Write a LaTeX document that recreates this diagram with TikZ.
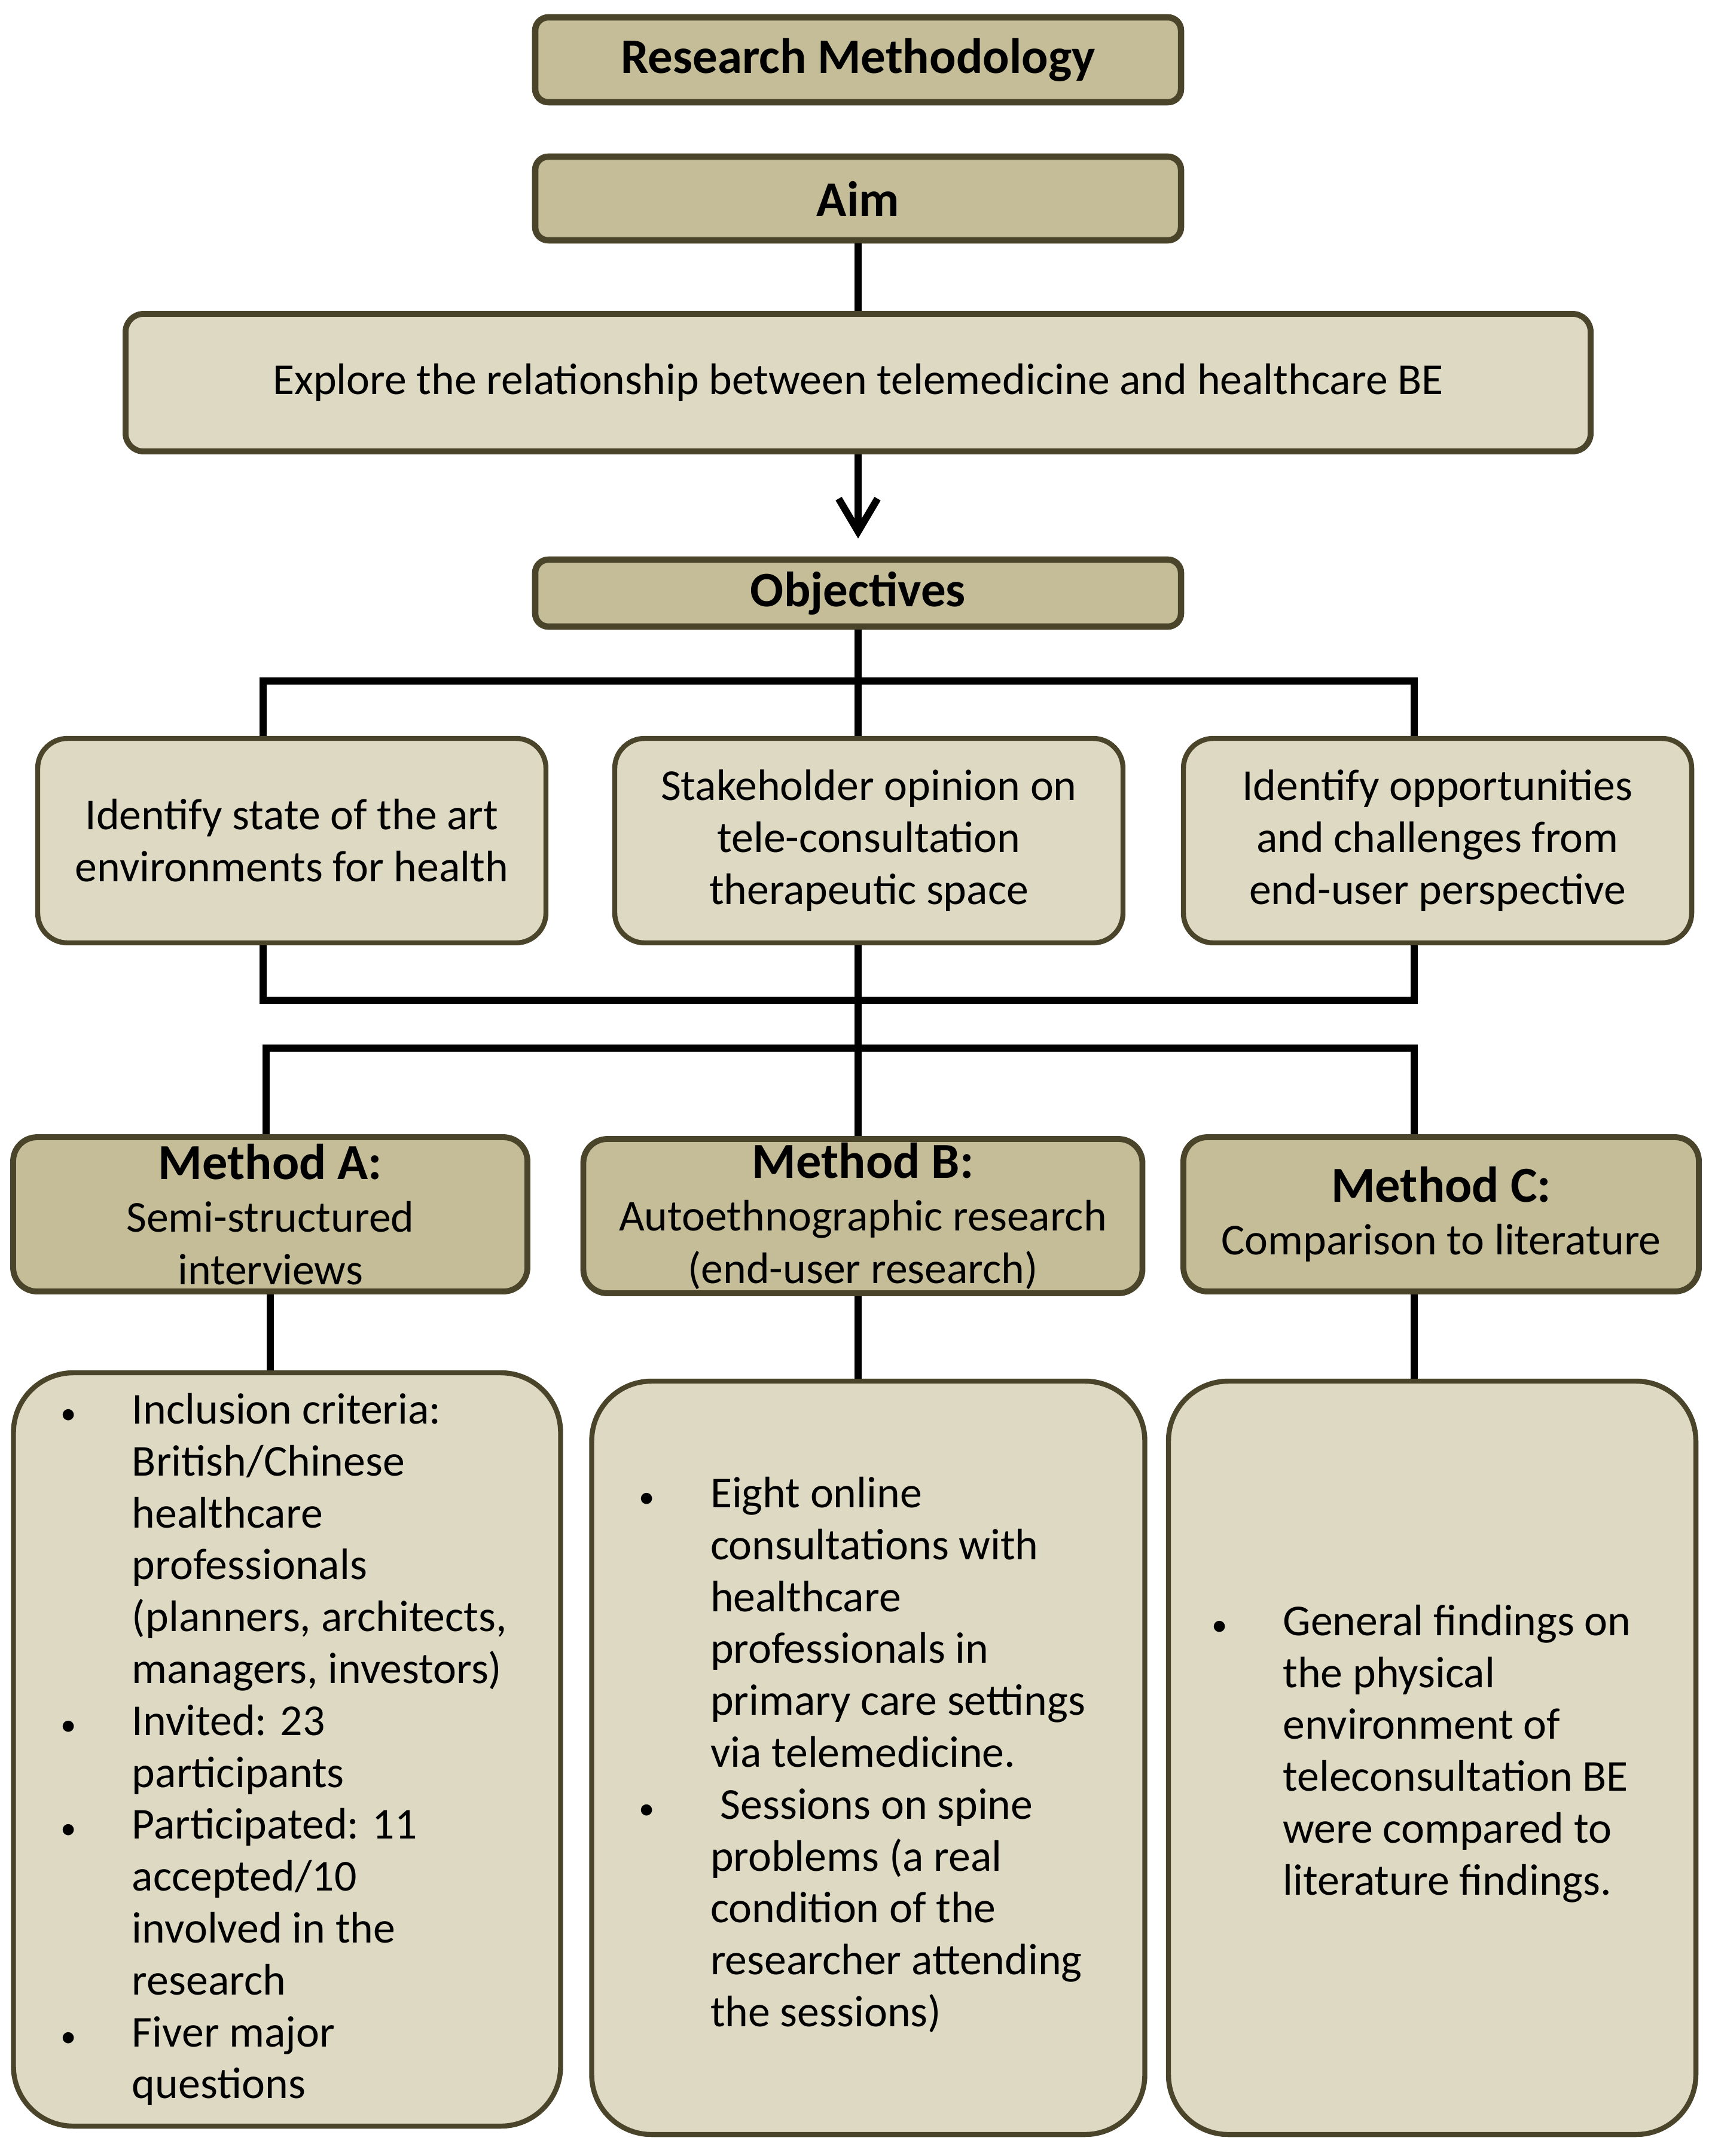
\documentclass[tikz,border=0pt]{standalone}
\usepackage{fontspec}
\setmainfont{Carlito}
\usepackage{tikz}
\usetikzlibrary{shapes,arrows.meta,positioning}
\definecolor{tandark}{HTML}{C4BD97}
\definecolor{tanlight}{HTML}{DDD9C3}
\definecolor{boxedge}{HTML}{4A452A}
\newcommand{\bulletpt}{\makebox[0.68cm]{\fontsize{15}{15}\selectfont\textbullet}\hspace{0.72cm}}
\newcommand{\bulletsk}{\hspace*{1.4cm}}
\tikzstyle{hnode} = [rectangle, rounded corners=0.22cm, draw=boxedge, line width=3pt, fill=tandark, font=\fontsize{23.6}{26}\selectfont\bfseries, minimum width=10.8cm, inner sep=0pt]
\tikzstyle{enode} = [rectangle, rounded corners=0.3cm, draw=boxedge, line width=2.8pt, fill=tanlight, font=\fontsize{21}{25}\selectfont, minimum width=24.5cm, minimum height=2.3cm]
\tikzstyle{onode} = [rectangle, rounded corners=0.5cm, draw=boxedge, line width=2.4pt, fill=tanlight, font=\fontsize{21}{24.7}\selectfont, align=center, minimum width=8.5cm, minimum height=3.42cm]
\tikzstyle{mnode} = [rectangle, rounded corners=0.4cm, draw=boxedge, line width=2.8pt, fill=tandark, font=\fontsize{21}{25}\selectfont, align=center, minimum height=2.58cm, inner sep=0pt]
\tikzstyle{bbox} = [rectangle, rounded corners=1cm, draw=boxedge, line width=2.4pt, fill=tanlight, minimum height=12.6cm]
\tikzstyle{btext} = [anchor=west, align=left, inner sep=0pt, font=\fontsize{21}{24.7}\selectfont]
\tikzstyle{line} = [draw, line width=3.4pt]
\tikzstyle{arrowline} = [draw, line width=3.4pt, -{Straight Barb[length=0.55cm,width=0.65cm]}, shorten >=0.3cm]

\begin{document}
\begin{tikzpicture}
	\useasboundingbox (0,0) rectangle (28.62,-36.06);

	\node [hnode, minimum height=1.42cm] (rm) at (14.35,-1.00) {Research Methodology};
	\node [hnode, minimum height=1.40cm] (aim) at (14.35,-3.32) {Aim};
	\node [enode] (explore) at (14.35,-6.40) {Explore the relationship between telemedicine and healthcare BE};
	\node [hnode, minimum height=1.12cm] (obj) at (14.35,-9.92) {Objectives};

	\node [onode] (o1) at (4.88,-14.06) {Identify state of the art\\environments for health};
	\node [onode] (o2) at (14.53,-14.06) {Stakeholder opinion on\\tele-consultation\\therapeutic space};
	\node [onode] (o3) at (24.04,-14.06) {Identify opportunities\\and challenges from\\end-user perspective};

	\node [mnode, minimum width=8.6cm] (ma) at (4.52,-20.31) {{\fontsize{24}{26}\selectfont\bfseries Method A:}\\Semi-structured\\interviews};
	\node [mnode, minimum width=9.35cm] (mb) at (14.43,-20.34) {{\fontsize{24}{26}\selectfont\bfseries Method B:}\\Autoethnographic research\\(end-user research)};
	\node [mnode, minimum width=8.62cm] (mc) at (24.10,-20.31) {{\fontsize{24}{26}\selectfont\bfseries Method C:}\\Comparison to literature};

	\node [bbox, minimum width=9.15cm] (ba) at (4.80,-29.26) {};
	\node [bbox, minimum width=9.25cm] (bb) at (14.52,-29.40) {};
	\node [bbox, minimum width=8.82cm] (bc) at (23.95,-29.40) {};

	\node [btext] (ta) at ([xshift=0.62cm]ba.west) {\bulletpt Inclusion criteria:\\\bulletsk British/Chinese\\\bulletsk healthcare\\\bulletsk professionals\\\bulletsk (planners, architects,\\\bulletsk managers, investors)\\\bulletpt Invited: 23\\\bulletsk participants\\\bulletpt Participated: 11\\\bulletsk accepted/10\\\bulletsk involved in the\\\bulletsk research\\\bulletpt Fiver major\\\bulletsk questions};
	\node [btext] (tb) at ([xshift=0.62cm,yshift=0.05cm]bb.west) {\bulletpt Eight online\\\bulletsk consultations with\\\bulletsk healthcare\\\bulletsk professionals in\\\bulletsk primary care settings\\\bulletsk via telemedicine.\\\bulletpt \ Sessions on spine\\\bulletsk problems (a real\\\bulletsk condition of the\\\bulletsk researcher attending\\\bulletsk the sessions)};
	\node [btext] (tc) at ([xshift=0.55cm,yshift=0.07cm]bc.west) {\bulletpt General findings on\\\bulletsk the physical\\\bulletsk environment of\\\bulletsk teleconsultation BE\\\bulletsk were compared to\\\bulletsk literature findings.};

	% junction columns
	\coordinate (cl) at (4.40,0);
	\coordinate (cc) at (14.35,0);
	\coordinate (cr) at (23.65,0);
	\coordinate (b1l) at (4.40,-11.39);
	\coordinate (b1r) at (23.65,-11.39);
	\coordinate (b2l) at (4.40,-16.73);
	\coordinate (b2r) at (23.65,-16.73);
	\coordinate (b3l) at (4.45,-17.53);
	\coordinate (b3r) at (23.65,-17.53);

	\path [line] (aim) -- (explore);
	\path [arrowline] (explore) -- (obj);
	\path [line] (obj.south) -- (o2.north -| cc);
	\path [line] (o1.north -| b1l) -- (b1l) -- (b1r) -- (o3.north -| b1r);
	\path [line] (o1.south -| b2l) -- (b2l) -- (b2r) -- (o3.south -| b2r);
	\path [line] (o2.south -| cc) -- (mb.north -| cc);
	\path [line] (ma.north -| b3l) -- (b3l) -- (b3r) -- (mc.north -| b3r);
	\path [line] (ma.south) -- (ba.north -| ma.south);
	\path [line] (mb.south -| cc) -- (bb.north -| cc);
	\path [line] (mc.south -| cr) -- (bc.north -| cr);
\end{tikzpicture}
\end{document}
